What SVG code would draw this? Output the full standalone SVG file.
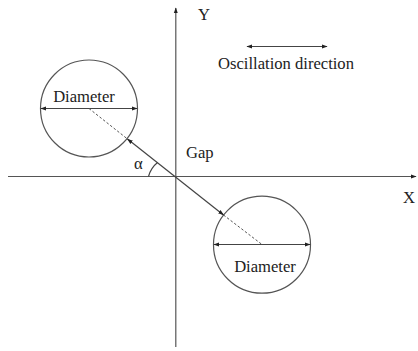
<svg xmlns="http://www.w3.org/2000/svg" width="418" height="351" viewBox="0 0 418 351">
<style>
.ln{stroke:#444;stroke-width:1.2;fill:none}
.ax{stroke:#555;stroke-width:1.2;fill:none}
.dash{stroke:#555;stroke-width:1;stroke-dasharray:2.5,2;fill:none}
.circ{stroke:#555;stroke-width:1.2;fill:none}
text{font-family:"Liberation Serif","Times New Roman",serif;fill:#222;font-size:16.6px}
</style>
<defs>
<marker id="ah" viewBox="0 0 10 10" refX="9" refY="5" markerWidth="6" markerHeight="6" orient="auto-start-reverse" markerUnits="userSpaceOnUse">
<path d="M0,1.5 L10,5 L0,8.5 z" fill="#222"/>
</marker>
</defs>
<g id="axes">
<line class="ax" x1="8" y1="176.5" x2="416" y2="176.5" marker-end="url(#ah)"/>
<line class="ax" x1="175.8" y1="347" x2="175.8" y2="8" marker-end="url(#ah)"/>
<text x="198" y="20">Y</text>
<text x="403" y="203">X</text>
</g>
<g id="circle-left">
<circle class="circ" cx="89" cy="108.5" r="48.5"/>
<text x="84" y="101.5" text-anchor="middle">Diameter</text>
</g>
<g id="circle-right">
<circle class="circ" cx="262" cy="244.7" r="48.5"/>
<text x="265" y="272" text-anchor="middle">Diameter</text>
</g>
<g id="oscillation">
<text x="286" y="68.5" text-anchor="middle">Oscillation direction</text>
</g>
<g id="labels">
<text x="186" y="158">Gap</text>
<text x="134" y="169">α</text>
</g>
<g id="connectors">
<line class="ln" x1="41" y1="108.5" x2="137" y2="108.5" marker-start="url(#ah)" marker-end="url(#ah)"/>
<line class="ln" x1="214" y1="244.5" x2="310" y2="244.5" marker-start="url(#ah)" marker-end="url(#ah)"/>
<line class="ln" x1="247" y1="46.5" x2="327" y2="46.5" marker-start="url(#ah)" marker-end="url(#ah)"/>
<line class="ln" x1="127.5" y1="139" x2="223.5" y2="215" marker-start="url(#ah)" marker-end="url(#ah)"/>
<line class="dash" x1="89" y1="108.5" x2="127.5" y2="139"/>
<line class="dash" x1="223.5" y1="215" x2="262" y2="244.5"/>
<path class="ln" d="M148.5,176.5 A27,27 0 0 1 157.5,162.5"/>
</g>
</svg>
